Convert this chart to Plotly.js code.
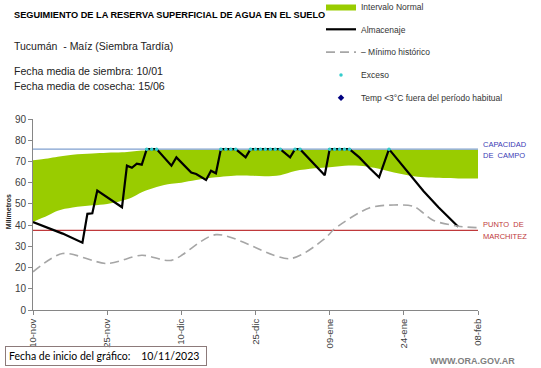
<!DOCTYPE html>
<html>
<head>
<meta charset="utf-8">
<script src="https://cdn.plot.ly/plotly-3.0.1.min.js"></script>
<style>html,body{margin:0;padding:0;background:#fff;}#chart{width:541px;height:368px;}</style>
</head>
<body>
<div id="chart"></div>
<script>
// ---- data ----
var tickDates = ['2023-11-10','2023-11-25','2023-12-10','2023-12-25','2024-01-09','2024-01-24','2024-02-08'];
var tickLabels = ['10-nov','25-nov','10-dic','25-dic','09-ene','24-ene','08-feb'];

var bandDates = ['2023-11-10','2023-11-13','2023-11-15','2023-11-18','2023-11-22','2023-11-25','2023-11-28','2023-11-30',
  '2023-12-02','2023-12-05','2023-12-08','2023-12-10','2023-12-13','2023-12-17','2023-12-20','2023-12-24','2023-12-27','2023-12-30',
  '2024-01-02','2024-01-06','2024-01-09','2024-01-12','2024-01-15','2024-01-18','2024-01-22','2024-01-26','2024-01-29','2024-02-04','2024-02-08'];
var bandLower = [41.5,44.5,46.8,48.3,49.3,50.0,51.5,53.0,55.5,58.0,59.5,60.0,61.2,62.5,63.2,63.3,63.0,63.5,65.5,66.8,67.3,68.0,68.0,67.0,64.8,63.0,62.4,62.0,62.0];
var bandUpper = [70.6,71.4,72.2,73.2,73.8,74.1,74.3,74.7,75.1,75.4,75.5,75.5,75.5,75.5,75.5,75.5,75.5,75.5,75.5,75.5,75.5,75.5,75.5,75.5,75.5,75.5,75.5,75.5,75.5];

var almDates = ['2023-11-10','2023-11-16','2023-11-20','2023-11-21','2023-11-22','2023-11-23','2023-11-28','2023-11-29','2023-11-30',
  '2023-12-01','2023-12-02','2023-12-03','2023-12-05','2023-12-08','2023-12-09','2023-12-12','2023-12-13','2023-12-15','2023-12-16',
  '2023-12-17','2023-12-18','2023-12-21','2023-12-23','2023-12-24','2023-12-30','2024-01-01','2024-01-02','2024-01-03','2024-01-08',
  '2024-01-09','2024-01-13','2024-01-15','2024-01-17','2024-01-19','2024-01-21','2024-01-24','2024-01-28','2024-01-31','2024-02-04'];
var almValues = [41.4,36.0,31.7,45.3,45.6,56.3,48.4,68.0,67.0,69.0,68.5,75.8,75.8,68.0,71.9,64.8,64.1,61.3,65.6,
  64.4,75.8,75.8,71.9,75.8,75.8,71.9,75.8,75.8,63.5,75.8,75.8,71.9,67.0,62.5,75.8,67.2,56.0,48.4,39.2];

var minDates = ['2023-11-10','2023-11-16','2023-11-25','2023-12-02','2023-12-08','2023-12-17','2024-01-01','2024-01-08','2024-01-10',
  '2024-01-17','2024-01-22','2024-01-26','2024-01-30','2024-02-04','2024-02-08'];
var minValues = [18.0,26.6,21.9,25.8,23.4,35.5,24.2,33.6,38.3,48.1,49.5,48.8,42.2,39.5,38.8];

var excDates = ['2023-12-03','2023-12-04','2023-12-05','2023-12-18','2023-12-19','2023-12-20','2023-12-21',
  '2023-12-24','2023-12-25','2023-12-26','2023-12-27','2023-12-28','2023-12-29','2023-12-30','2024-01-02','2024-01-03',
  '2024-01-09','2024-01-10','2024-01-11','2024-01-12','2024-01-13','2024-01-21'];
var excValues = [75.8,75.8,75.8,75.8,75.8,75.8,75.8,75.8,75.8,75.8,75.8,75.8,75.8,75.8,75.8,75.8,75.8,75.8,75.8,75.8,75.8,75.8];

var capacidad = 75.8;
var marchitez = 37.5;
var rangeDates = ['2023-11-10','2024-02-08'];

// ---- layout helpers (pixel -> paper) ----
var W = 541, H = 368;
var L = 33, R = 478, T = 118.7, B = 310;
function px(x){ return (x - L) / (R - L); }
function py(y){ return (B - y) / (B - T); }
var FF = 'Liberation Sans, Arial, sans-serif';

var traces = [
  {x: bandDates, y: bandLower, mode:'lines', line:{width:0, shape:'spline', color:'#99cc00'}, showlegend:false, hoverinfo:'skip'},
  {x: bandDates, y: bandUpper, mode:'lines', fill:'tonexty', fillcolor:'#99cc00', line:{width:0, shape:'spline', color:'#99cc00'},
    name:'Intervalo Normal', legendgroup:'a'},
  {x: rangeDates, y:[capacidad, capacidad], mode:'lines', line:{color:'#7f9fcf', width:1.2}, showlegend:false},
  {x: rangeDates, y:[marchitez, marchitez], mode:'lines', line:{color:'#c0393b', width:1.2}, showlegend:false},
  {x: almDates, y: almValues, mode:'lines', line:{color:'#000000', width:2.2}, name:'Almacenaje', legendgroup:'b'},
  {x: minDates, y: minValues, mode:'lines', line:{color:'#a6a6a6', width:1.6, dash:'9px,5px', shape:'spline', smoothing:0.8},
    name:'– Mínimo histórico', legendgroup:'c'},
  {x: excDates, y: excValues, mode:'markers', marker:{color:'#33cccc', size:3.5, symbol:'circle'}, name:'Exceso', legendgroup:'d'},
  {x: [null], y: [null], mode:'markers', marker:{color:'#000080', size:5, symbol:'diamond'},
    name:'Temp <3°C fuera del período habitual', legendgroup:'e'}
];

function ann(x, y, text, font, extra){
  var a = {xref:'paper', yref:'paper', x:px(x), y:py(y), xanchor:'left', yanchor:'middle', showarrow:false, text:text, font:font};
  if (extra) for (var k in extra) a[k] = extra[k];
  return a;
}

var layout = {
  width: W, height: H,
  margin: {l: L, r: W - R, t: T, b: H - B, pad: 0, autoexpand: false},
  paper_bgcolor:'#ffffff', plot_bgcolor:'#ffffff',
  showlegend: true,
  legend: {xref:'container', yref:'container', x: 321 / W, y: (H - 113) / H, xanchor:'left', yanchor:'bottom',
    font:{family:FF, size:8.5, color:'#333333'},
    bgcolor:'rgba(0,0,0,0)', tracegroupgap: 3.8, traceorder:'grouped'},
  xaxis: {type:'date', range: rangeDates, tickvals: tickDates, ticktext: tickLabels, tickangle: -90,
    showgrid:false, zeroline:false, showline:true, linecolor:'#868686', linewidth:1,
    ticks:'outside', ticklen:4, tickcolor:'#868686', tickfont:{family:FF, size:9.5, color:'#404040'}},
  yaxis: {range:[0,90], tickvals:[0,10,20,30,40,50,60,70,80,90], showgrid:false, zeroline:false, showline:true,
    linecolor:'#868686', linewidth:1, ticks:'outside', ticklen:4, tickcolor:'#868686',
    tickfont:{family:FF, size:10, color:'#404040'}},
  annotations: [
    ann(12, 15, '<b>SEGUIMIENTO DE LA RESERVA SUPERFICIAL DE AGUA EN EL SUELO</b>', {family:FF, size:9.2, color:'#000'}),
    ann(12, 46, 'Tucumán  - Maíz (Siembra Tardía)', {family:FF, size:10.5, color:'#222'}),
    ann(12, 71, 'Fecha media de siembra: 10/01', {family:FF, size:10.6, color:'#222'}),
    ann(12, 86, 'Fecha media de cosecha: 15/06', {family:FF, size:10.6, color:'#222'}),
    ann(8, 212, '<b>Milímetros</b>', {family:FF, size:7, color:'#222'}, {xanchor:'center', textangle:-90}),
    ann(481, 144, 'CAPACIDAD', {family:FF, size:7.5, color:'#3b3bb5'}),
    ann(481, 155, 'DE  CAMPO', {family:FF, size:7.5, color:'#3b3bb5'}),
    ann(481, 224, 'PUNTO  DE', {family:FF, size:7.5, color:'#c0393b'}),
    ann(481, 236, 'MARCHITEZ', {family:FF, size:7.5, color:'#c0393b'}),
    ann(5, 356, 'Fecha de inicio del gráfico:&nbsp;&nbsp;&nbsp; 10/11/2023', {family:'Lato, sans-serif', size:10.5, color:'#000'},
      {bordercolor:'#8c7a7a', borderwidth:1, borderpad:3, width:194, align:'left'}),
    ann(517, 361, '<b>WWW.ORA.GOV.AR</b>', {family:FF, size:9, color:'#7f7f7f'}, {xanchor:'right'})
  ]
};

Plotly.newPlot('chart', traces, layout, {staticPlot:true, displayModeBar:false});
</script>
</body>
</html>
